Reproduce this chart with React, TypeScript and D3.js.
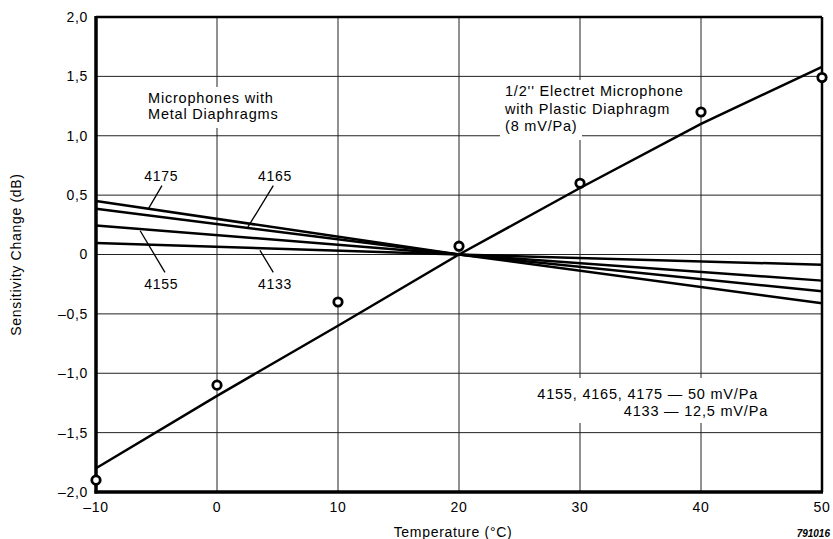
import React from 'react';
import * as d3 from 'd3';

// temperatures (°C) and sensitivity change (dB)
const temps = [-10, 0, 10, 20, 30, 40, 50];
const electretCurve = [-1.8, -1.19, -0.6, 0, 0.56, 1.1, 1.58];
const electretMeasured = [-1.9, -1.1, -0.4, 0.07, 0.6, 1.2, 1.49];

const metalTemps = [-10, 20, 50];
const mic4175 = [0.45, 0, -0.41];
const mic4165 = [0.385, 0, -0.31];
const mic4155 = [0.245, 0, -0.22];
const mic4133 = [0.097, 0, -0.087];

const xTicks = [-10, 0, 10, 20, 30, 40, 50];
const yTicks = [-2, -1.5, -1, -0.5, 0, 0.5, 1, 1.5, 2];

const font = 'Liberation Sans, Arial, sans-serif';
const fs = 14;
const ls = 0.7;

const fmtY = (v: number) => {
  if (v === 0) return '0';
  const s = Math.abs(v).toFixed(1).replace('.', ',');
  return v < 0 ? '\u2013' + s : s;
};
const fmtX = (v: number) => (v < 0 ? '\u2013' + Math.abs(v) : String(v));

const App = () => {
  const W = 833;
  const H = 539;
  const x = d3.scaleLinear().domain([-10, 50]).range([96, 822]);
  const y = d3.scaleLinear().domain([-2, 2]).range([492, 17]);

  const line = d3.line<[number, number]>()
    .x(d => x(d[0]))
    .y(d => y(d[1]));

  const electretPts = temps.map((t, i) => [t, electretCurve[i]] as [number, number]);
  const metal = [mic4175, mic4165, mic4155, mic4133];

  // leader lines from the type labels to their curves (data coords)
  const leaders = [
    { label: '4175', lx: -4.6, ly: 0.66, from: [-4.55, 0.58], to: [-5.7, 0.38] },
    { label: '4165', lx: 4.8, ly: 0.66, from: [4.65, 0.58], to: [2.55, 0.23] },
    { label: '4155', lx: -4.6, ly: -0.25, from: [-6.35, 0.2], to: [-4.3, -0.15] },
    { label: '4133', lx: 4.8, ly: -0.25, from: [3.55, 0.035], to: [4.65, -0.15] },
  ];

  return (
    <div style={{ position: 'fixed', left: 0, top: 0 }}>
      <svg width={W} height={H} style={{ display: 'block', background: '#fff' }} fontFamily={font} letterSpacing={ls}>
        {/* grid */}
        {xTicks.map(t => (
          <line key={'gx' + t} x1={x(t)} x2={x(t)} y1={y(2)} y2={y(-2)} stroke="#222" strokeWidth={1} />
        ))}
        {yTicks.map(t => (
          <line key={'gy' + t} x1={x(-10)} x2={x(50)} y1={y(t)} y2={y(t)} stroke="#222" strokeWidth={1} />
        ))}

        {/* white boxes behind annotations */}
        <rect x={142} y={87} width={140} height={41} fill="#fff" />
        <rect x={500} y={80} width={190} height={40} fill="#fff" />
        <rect x={500} y={118} width={82} height={22} fill="#fff" />
        <rect x={534} y={378} width={238} height={45} fill="#fff" />

        {/* frame */}
        <line x1={x(-10)} x2={x(50)} y1={y(2)} y2={y(2)} stroke="#000" strokeWidth={2.5} />
        <line x1={x(50)} x2={x(50)} y1={y(2)} y2={y(-2)} stroke="#000" strokeWidth={2.5} />
        <line x1={x(-10)} x2={x(-10)} y1={y(2) - 1} y2={y(-2) + 1.5} stroke="#000" strokeWidth={3.5} />
        <line x1={x(-10) - 1.5} x2={x(50) + 1} y1={y(-2)} y2={y(-2)} stroke="#000" strokeWidth={3.5} />

        {/* metal diaphragm microphones */}
        {metal.map((vals, k) => (
          <path
            key={'m' + k}
            d={line(metalTemps.map((t, i) => [t, vals[i]] as [number, number])) || ''}
            fill="none"
            stroke="#000"
            strokeWidth={2.5}
          />
        ))}

        {/* electret microphone */}
        <path d={line(electretPts) || ''} fill="none" stroke="#000" strokeWidth={2.5} />
        {temps.map((t, i) => (
          <circle
            key={'c' + t}
            cx={x(t)}
            cy={y(electretMeasured[i])}
            r={4.2}
            fill="#fff"
            stroke="#000"
            strokeWidth={2.8}
          />
        ))}

        {/* type labels with leaders */}
        {leaders.map(l => (
          <g key={l.label}>
            <line
              x1={x(l.from[0])}
              y1={y(l.from[1])}
              x2={x(l.to[0])}
              y2={y(l.to[1])}
              stroke="#000"
              strokeWidth={1.3}
            />
            <text x={x(l.lx)} y={y(l.ly)} fontSize={fs} textAnchor="middle" dy="0.35em">
              {l.label}
            </text>
          </g>
        ))}

        {/* annotations */}
        <text fontSize={14.5} letterSpacing={0.8}>
          <tspan x={148} y={103}>Microphones with</tspan>
          <tspan x={148} y={119}>Metal Diaphragms</tspan>
        </text>
        <text fontSize={14.5} letterSpacing={0.8}>
          <tspan x={505} y={96}>1/2'' Electret Microphone</tspan>
          <tspan x={505} y={114}>with Plastic Diaphragm</tspan>
          <tspan x={505} y={131}>(8 mV/Pa)</tspan>
        </text>
        <text fontSize={14.5} letterSpacing={0.8} textAnchor="end">
          <tspan x={758} y={399}>4155, 4165, 4175 {'\u2014'} 50 mV/Pa</tspan>
          <tspan x={768} y={416}>4133 {'\u2014'} 12,5 mV/Pa</tspan>
        </text>

        {/* axis tick labels */}
        {yTicks.map(t => (
          <text key={'ty' + t} x={88} y={y(t)} dy="0.35em" fontSize={fs} textAnchor="end">
            {fmtY(t)}
          </text>
        ))}
        {xTicks.map(t => (
          <text key={'tx' + t} x={x(t)} y={512} fontSize={fs} textAnchor="middle">
            {fmtX(t)}
          </text>
        ))}

        {/* axis titles */}
        <text
          transform={`translate(21,${y(0)}) rotate(-90)`}
          fontSize={fs}
          textAnchor="middle"
        >
          Sensitivity Change (dB)
        </text>
        <text x={453} y={537} fontSize={fs} textAnchor="middle">
          Temperature (°C)
        </text>
        <text x={830} y={537} fontSize={10} fontStyle="italic" fontWeight="bold" textAnchor="end" letterSpacing={0}>
          791016
        </text>
      </svg>
    </div>
  );
};

export default App;
